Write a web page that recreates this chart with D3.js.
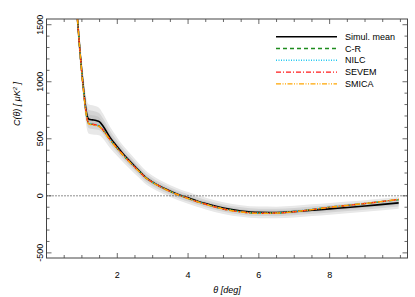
<!DOCTYPE html>
<html>
<head>
<meta charset="utf-8">
<script src="https://cdn.jsdelivr.net/npm/d3@7"></script>
<style>
  body { margin: 0; background: #fff; }
  text { font-family: "Liberation Sans", Arial, sans-serif; }
</style>
</head>
<body>
<script>
// angular separation (deg)
const theta = [0.85, 0.95, 1.0, 1.05, 1.1, 1.15, 1.2, 1.3, 1.4, 1.5, 1.6, 1.8, 2.0, 2.2, 2.4, 2.6, 2.8, 3.0, 3.2, 3.4, 3.6, 3.8, 4.0, 4.25, 4.5, 5.0, 5.5, 6.0, 6.5, 7.0, 7.5, 8.0, 8.5, 9.0, 9.5, 9.95];

// simulation mean and spread
const simMean = [1650, 1250, 1080, 930, 790, 700, 672, 666, 660, 648, 610, 510, 430, 355, 290, 225, 162, 120, 85, 55, 28, 3, -18, -45, -68, -108, -133, -145, -146, -138, -126, -114, -102, -89, -75, -62];
const simSigma = [70, 70, 70, 72, 75, 78, 80, 80, 78, 74, 68, 58, 50, 45, 42, 39, 37, 35, 34, 33, 32, 32, 32, 32, 32, 32, 32, 32, 32, 32, 32, 32, 32, 32, 32, 32];

// component separation maps
const cr    = [1650, 1250, 1070, 910, 770, 670, 632, 626, 620, 608, 575, 490, 415, 345, 280, 220, 160, 118, 83, 52, 25, 0, -22, -50, -74, -115, -140, -152, -150, -138, -120, -100, -84, -68, -50, -34];
const nilc  = [1650, 1250, 1075, 915, 775, 675, 638, 630, 624, 612, 578, 493, 418, 347, 282, 221, 160, 118, 83, 52, 25, 0, -22, -49, -73, -114, -139, -150, -148, -136, -118, -98, -82, -66, -48, -32];
const sevem = [1650, 1250, 1070, 912, 772, 672, 634, 627, 621, 609, 576, 491, 416, 346, 281, 220, 160, 118, 83, 52, 25, 0, -22, -50, -74, -115, -141, -153, -151, -139, -121, -100, -84, -67, -49, -31];
const smica = [1650, 1250, 1068, 908, 768, 668, 628, 622, 616, 604, 572, 487, 412, 343, 278, 218, 158, 116, 81, 50, 23, -2, -24, -51, -75, -116, -142, -154, -152, -140, -121, -101, -84, -67, -49, -30];

const seriesNames = ["Simul. mean", "C-R", "NILC", "SEVEM", "SMICA"];
const seriesColors = ["#000000", "#1e8c1e", "#22c8f0", "#ff1a1a", "#ffa500"];
const seriesDash = ["", "4,3", "1,1.5", "5,2,1,2", "5,1.5,1,1.5,1,1.5"];

const xTicks = [2, 4, 6, 8];
const yTicks = [-500, 0, 500, 1000, 1500];

const W = 415, H = 297;
const plot = {left: 46.5, right: 407.5, top: 19, bottom: 258};

const svg = d3.select("body").append("svg")
    .attr("width", W).attr("height", H);

const x = d3.scaleLinear().domain([0, 10.2]).range([plot.left, plot.right]);
const y = d3.scaleLinear().domain([-545, 1550]).range([plot.bottom, plot.top]);

svg.append("clipPath").attr("id", "clip")
    .append("rect")
    .attr("x", plot.left).attr("y", plot.top)
    .attr("width", plot.right - plot.left).attr("height", plot.bottom - plot.top);

const g = svg.append("g").attr("clip-path", "url(#clip)");

const meanData = theta.map((t, i) => ({t: t, m: simMean[i], s: simSigma[i]}));

// grey bands
const band = k => d3.area().curve(d3.curveMonotoneX)
    .x(d => x(d.t)).y0(d => y(d.m - k * d.s)).y1(d => y(d.m + k * d.s));
g.append("path").datum(meanData).attr("d", band(1.6)).attr("fill", "#e8e8e8");
g.append("path").datum(meanData).attr("d", band(1.0)).attr("fill", "#d4d4d4");
g.append("path").datum(meanData).attr("d", band(0.5)).attr("fill", "#c6c6c6");

// zero line
g.append("line")
    .attr("x1", plot.left).attr("x2", plot.right)
    .attr("y1", y(0)).attr("y2", y(0))
    .attr("stroke", "#000").attr("stroke-width", 0.9)
    .attr("stroke-dasharray", "1,2");

const line = d3.line().curve(d3.curveMonotoneX).x(d => x(d[0])).y(d => y(d[1]));
const allSeries = [simMean, cr, nilc, sevem, smica];

allSeries.forEach((vals, i) => {
    g.append("path")
        .datum(theta.map((t, j) => [t, vals[j]]))
        .attr("d", line)
        .attr("fill", "none")
        .attr("stroke", seriesColors[i])
        .attr("stroke-width", i === 0 ? 1.6 : 1.4)
        .attr("stroke-dasharray", seriesDash[i]);
});

// frame and ticks
const axisColor = "#444";
svg.append("rect")
    .attr("x", plot.left).attr("y", plot.top)
    .attr("width", plot.right - plot.left).attr("height", plot.bottom - plot.top)
    .attr("fill", "none").attr("stroke", axisColor).attr("stroke-width", 1);

const xMinor = d3.range(0.5, 10.2, 0.5);
const yMinor = d3.range(-500, 1550, 100);

xMinor.forEach(v => {
    const len = xTicks.includes(v) ? 5 : 3;
    svg.append("line").attr("x1", x(v)).attr("x2", x(v))
        .attr("y1", plot.bottom).attr("y2", plot.bottom - len)
        .attr("stroke", axisColor).attr("stroke-width", 0.8);
    svg.append("line").attr("x1", x(v)).attr("x2", x(v))
        .attr("y1", plot.top).attr("y2", plot.top + len)
        .attr("stroke", axisColor).attr("stroke-width", 0.8);
});
yMinor.forEach(v => {
    const len = yTicks.includes(v) ? 5 : 3;
    svg.append("line").attr("y1", y(v)).attr("y2", y(v))
        .attr("x1", plot.left).attr("x2", plot.left + len)
        .attr("stroke", axisColor).attr("stroke-width", 0.8);
    svg.append("line").attr("y1", y(v)).attr("y2", y(v))
        .attr("x1", plot.right).attr("x2", plot.right - len)
        .attr("stroke", axisColor).attr("stroke-width", 0.8);
});

// tick labels
svg.selectAll(".xl").data(xTicks).join("text")
    .attr("x", d => x(d)).attr("y", 277.5)
    .attr("text-anchor", "middle")
    .attr("font-size", 9)
    .text(d => d);

svg.selectAll(".yl").data(yTicks).join("text")
    .attr("transform", d => `translate(42.5,${y(d)}) rotate(-90)`)
    .attr("text-anchor", "middle")
    .attr("font-size", 9)
    .text(d => d);

// axis titles
svg.append("text")
    .attr("x", x(5.1)).attr("y", 293)
    .attr("text-anchor", "middle")
    .attr("font-size", 9).attr("font-style", "italic")
    .text("θ  [deg]");

const yt = svg.append("text")
    .attr("transform", `translate(20,104) rotate(-90)`)
    .attr("text-anchor", "middle")
    .attr("font-size", 9).attr("font-style", "italic");
yt.append("tspan").text("C(θ)  [ μK");
yt.append("tspan").attr("font-size", 6).attr("dy", -3).text("2");
yt.append("tspan").attr("dy", 3).text(" ]");

// legend
const legend = svg.append("g");
seriesNames.forEach((name, i) => {
    const ly = 36.7 + i * 11.8;
    legend.append("line")
        .attr("x1", 276).attr("x2", 337)
        .attr("y1", ly).attr("y2", ly)
        .attr("stroke", seriesColors[i])
        .attr("stroke-width", i === 0 ? 1.6 : 1.4)
        .attr("stroke-dasharray", seriesDash[i]);
    legend.append("text")
        .attr("x", 345).attr("y", ly + 3)
        .attr("font-size", 9)
        .text(name);
});
</script>
</body>
</html>
